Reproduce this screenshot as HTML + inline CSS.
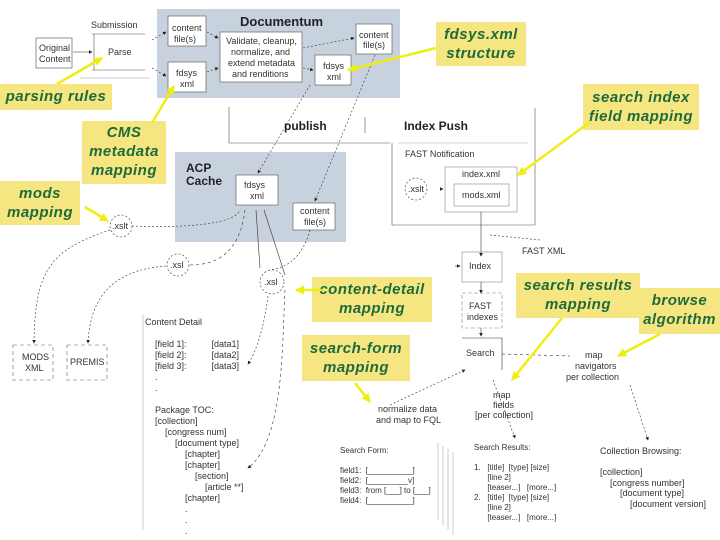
<!DOCTYPE html>
<html><head><style>
body{margin:0;width:720px;height:540px;background:#fff;overflow:hidden;position:relative;font-family:"Liberation Sans",sans-serif}
.y{position:absolute;background:#f6e681;color:#1d6b3c;font-weight:bold;font-style:italic;text-align:center;font-size:15px;line-height:19px;letter-spacing:0.5px}
.t{position:absolute;font-size:9px;color:#333;line-height:11px;white-space:pre}
</style></head><body>
<svg width="720" height="540" style="position:absolute;left:0;top:0" font-family="Liberation Sans" font-size="9" fill="#333">
<defs><marker id="a" markerWidth="6" markerHeight="6" refX="5" refY="3" orient="auto"><path d="M0,0L6,3L0,6z" fill="#222"/></marker></defs>
<rect x="157" y="9" width="243" height="89" fill="#c8d2df"/>
<rect x="175" y="152" width="171" height="90" fill="#c8d2df"/>
<text x="240" y="26" font-size="13" font-weight="bold" fill="#222">Documentum</text>
<text x="186" y="172" font-size="12" font-weight="bold" fill="#222">ACP</text>
<text x="186" y="185" font-size="12" font-weight="bold" fill="#222">Cache</text>
<text x="91" y="28">Submission</text>
<line x1="92" y1="34" x2="145" y2="34" stroke="#555" stroke-width="0.6"/>
<line x1="92" y1="70" x2="145" y2="70" stroke="#555" stroke-width="0.6"/>
<line x1="94" y1="34" x2="94" y2="70" stroke="#555" stroke-width="0.6"/>
<line x1="80" y1="78" x2="150" y2="78" stroke="#999" stroke-width="0.5"/>
<text x="108" y="55">Parse</text>
<g fill="#fff" stroke="#666" stroke-width="0.7">
<rect x="36" y="38" width="36" height="30"/><rect x="168" y="16" width="38" height="30"/><rect x="168" y="62" width="38" height="30"/>
<rect x="356" y="24" width="36" height="30"/><rect x="315" y="55" width="36" height="30"/>
<rect x="236" y="175" width="42" height="30"/><rect x="293" y="203" width="42" height="27"/>
<rect x="220" y="32" width="82" height="50"/>
</g>
<text x="39" y="51">Original</text><text x="39" y="62">Content</text>
<text x="172" y="31">content</text><text x="174" y="42">file(s)</text>
<text x="176" y="76">fdsys</text><text x="180" y="87">xml</text>
<text x="359" y="38">content</text><text x="363" y="48">file(s)</text>
<text x="323" y="69">fdsys</text><text x="327" y="80">xml</text>
<text x="244" y="188">fdsys</text><text x="250" y="199">xml</text>
<text x="300" y="214">content</text><text x="304" y="225">file(s)</text>
<text x="226" y="44">Validate, cleanup,</text><text x="231" y="55">normalize, and</text><text x="228" y="66">extend metadata</text><text x="232" y="77">and renditions</text>
<g stroke="#333" stroke-width="0.6" fill="none">
<line x1="73" y1="52" x2="92" y2="52" marker-end="url(#a)"/>
<path d="M152 40L166 32" stroke-dasharray="2,2" marker-end="url(#a)"/>
<path d="M152 68L166 76" stroke-dasharray="2,2" marker-end="url(#a)"/>
<path d="M207 32L218 38" stroke-dasharray="2,2" marker-end="url(#a)"/>
<path d="M207 72L218 68" stroke-dasharray="2,2" marker-end="url(#a)"/>
<path d="M303 48L354 38" stroke-dasharray="2,2" marker-end="url(#a)"/>
<path d="M303 68L313 70" stroke-dasharray="2,2" marker-end="url(#a)"/>
<path d="M310 85L258 173" stroke-dasharray="2,2" marker-end="url(#a)"/>
<path d="M375 55L315 201" stroke-dasharray="2,2" marker-end="url(#a)"/>
<polyline points="229,107 229,143 390,143" stroke="#555"/>
<line x1="365" y1="117" x2="365" y2="133" stroke="#555"/>
<line x1="392" y1="143" x2="392" y2="225" stroke="#555"/>
<line x1="535" y1="108" x2="535" y2="225" stroke="#555"/>
<line x1="392" y1="225" x2="535" y2="225" stroke="#555"/>
<line x1="398" y1="143" x2="528" y2="143" stroke="#aaa"/>
<rect x="445" y="167" width="72" height="45" stroke="#888"/>
<rect x="454" y="184" width="55" height="22" stroke="#888"/>
<line x1="440" y1="189" x2="443" y2="189" marker-end="url(#a)"/>
<circle cx="416" cy="189" r="11" stroke-dasharray="2,2"/>
<circle cx="121" cy="226" r="11" stroke-dasharray="2,2"/>
<circle cx="178" cy="265" r="11" stroke-dasharray="2,2"/>
<circle cx="272" cy="282" r="12" stroke-dasharray="2,2"/>
<line x1="481" y1="212" x2="481" y2="256" marker-end="url(#a)"/>
<line x1="490" y1="235" x2="540" y2="240" stroke-dasharray="2,2"/>
<rect x="462" y="252" width="40" height="30" stroke="#888"/>
<line x1="455" y1="266" x2="460" y2="266" marker-end="url(#a)"/>
<line x1="481" y1="282" x2="481" y2="293" marker-end="url(#a)"/>
<rect x="462" y="293" width="40" height="35" stroke="#888" stroke-dasharray="4,2"/>
<line x1="481" y1="328" x2="481" y2="336" marker-end="url(#a)"/>
<polyline points="462,338 502,338 502,370"/>
<line x1="502" y1="354" x2="570" y2="356" stroke-dasharray="3,3"/>
<path d="M132 226C180 228 235 225 240 210" stroke-dasharray="2,2"/>
<path d="M190 265C220 265 240 250 245 210" stroke-dasharray="3,3"/>
<line x1="256" y1="210" x2="260" y2="268"/>
<line x1="264" y1="210" x2="285" y2="275"/>
<path d="M310 230C300 265 280 268 270 270" stroke-dasharray="2,2"/>
<path d="M110 230C50 250 35 270 34 343" stroke-dasharray="2,2" marker-end="url(#a)"/>
<path d="M166 266C110 270 90 300 88 343" stroke-dasharray="2,2" marker-end="url(#a)"/>
<path d="M268 296C265 320 258 350 248 364" stroke-dasharray="2,2" marker-end="url(#a)"/>
<path d="M285 290C282 340 285 440 248 468" stroke-dasharray="3,3" marker-end="url(#a)"/>
<line x1="143" y1="315" x2="143" y2="530" stroke="#aaa"/>
<path d="M390 405L465 370" stroke-dasharray="2,2" marker-end="url(#a)"/>
<path d="M493 380L515 438" stroke-dasharray="2,2" marker-end="url(#a)"/>
<path d="M630 385L648 440" stroke-dasharray="2,2" marker-end="url(#a)"/>
<line x1="438" y1="443" x2="438" y2="520" stroke="#aaa"/>
<line x1="443" y1="446" x2="443" y2="525" stroke="#aaa"/>
<line x1="448" y1="449" x2="448" y2="530" stroke="#aaa"/>
<line x1="453" y1="452" x2="453" y2="535" stroke="#aaa"/>
</g>
<g fill="#fff" stroke="#666" stroke-width="0.6" stroke-dasharray="4,3">
<rect x="13" y="345" width="40" height="35"/><rect x="67" y="345" width="40" height="35"/>
</g>
<text x="284" y="130" font-size="12" font-weight="bold" fill="#222">publish</text>
<text x="404" y="130" font-size="12" font-weight="bold" fill="#222">Index Push</text>
<text x="405" y="157">FAST Notification</text>
<text x="462" y="177">index.xml</text><text x="462" y="198">mods.xml</text>
<text x="408" y="192">.xslt</text><text x="112" y="229">.xslt</text><text x="170" y="268">.xsl</text><text x="264" y="285">.xsl</text>
<text x="522" y="254">FAST XML</text><text x="469" y="269">Index</text>
<text x="469" y="309">FAST</text><text x="467" y="320">indexes</text><text x="466" y="356">Search</text>
<text x="22" y="360">MODS</text><text x="25" y="371">XML</text><text x="70" y="365">PREMIS</text>
<text x="585" y="358">map</text><text x="575" y="369">navigators</text><text x="566" y="380">per collection</text>
<text x="493" y="398">map</text><text x="493" y="408">fields</text><text x="475" y="418">[per collection]</text>
<text x="378" y="412">normalize data</text><text x="376" y="423">and map to FQL</text>
</svg>
<div class="t" style="left:145px;top:317px">Content Detail

    [field 1]:          [data1]
    [field 2]:          [data2]
    [field 3]:          [data3]
    .
    .

    Package TOC:
    [collection]
        [congress num]
            [document type]
                [chapter]
                [chapter]
                    [section]
                        [article **]
                [chapter]
                .
                .
                .</div>
<div class="t" style="left:340px;top:446px;font-size:8px;line-height:10px">Search Form:

field1:  [__________]
field2:  [_________v]
field3:  from [___] to [___]
field4:  [__________]</div>
<div class="t" style="left:474px;top:443px;font-size:8px;line-height:10px">Search Results:

1.   [title]  [type] [size]
      [line 2]
      [teaser...]   [more...]
2.   [title]  [type] [size]
      [line 2]
      [teaser...]   [more...]</div>
<div class="t" style="left:600px;top:446px;line-height:10.5px">Collection Browsing:

[collection]
    [congress number]
        [document type]
            [document version]</div>
<div class="y" style="left:436px;top:22px;width:90px;height:44px;padding-top:3px;box-sizing:border-box">fdsys.xml<br>structure</div>
<div class="y" style="left:0;top:84px;width:112px;height:26px;line-height:26px">parsing rules</div>
<div class="y" style="left:583px;top:84px;width:116px;height:46px;padding-top:4px;box-sizing:border-box">search index<br>field mapping</div>
<div class="y" style="left:82px;top:121px;width:84px;height:63px;padding-top:2px;box-sizing:border-box">CMS<br>metadata<br>mapping</div>
<div class="y" style="left:0;top:181px;width:80px;height:44px;padding-top:3px;box-sizing:border-box">mods<br>mapping</div>
<div class="y" style="left:312px;top:277px;width:120px;height:45px;padding-top:3px;box-sizing:border-box">content-detail<br>mapping</div>
<div class="y" style="left:302px;top:335px;width:108px;height:46px;padding-top:4px;box-sizing:border-box">search-form<br>mapping</div>
<div class="y" style="left:516px;top:273px;width:124px;height:45px;padding-top:3px;box-sizing:border-box">search results<br>mapping</div>
<div class="y" style="left:639px;top:288px;width:81px;height:46px;padding-top:3px;box-sizing:border-box">browse<br>algorithm</div>
<svg width="720" height="540" style="position:absolute;left:0;top:0">
<defs><marker id="yb" markerUnits="userSpaceOnUse" markerWidth="9" markerHeight="9" refX="8" refY="4.5" orient="auto"><path d="M0,0L9,4.5L0,9z" fill="#eeee10"/></marker></defs>
<g stroke="#eeee10" stroke-width="2.5" fill="none" marker-end="url(#yb)">
<line x1="57" y1="84" x2="102" y2="58"/>
<line x1="152" y1="123" x2="174" y2="86"/>
<line x1="436" y1="48" x2="348" y2="70"/>
<line x1="590" y1="122" x2="518" y2="175"/>
<line x1="85" y1="207" x2="108" y2="221"/>
<line x1="322" y1="290" x2="296" y2="290"/>
<line x1="355" y1="383" x2="370" y2="402"/>
<line x1="562" y1="318" x2="512" y2="380"/>
<line x1="660" y1="334" x2="618" y2="356"/>
</g></svg>
</body></html>
